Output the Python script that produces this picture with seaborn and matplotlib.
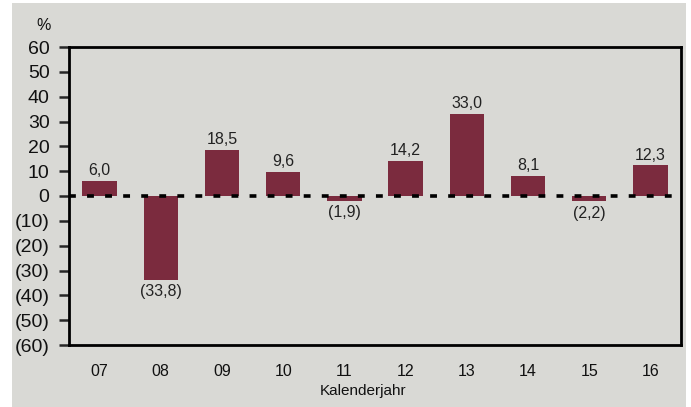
import numpy as np
import pandas as pd
import matplotlib
matplotlib.use("Agg")
import matplotlib.pyplot as plt
from matplotlib.patches import Rectangle
import seaborn as sns

# Data
years = ["07", "08", "09", "10", "11", "12", "13", "14", "15", "16"]
changes = [6.0, -33.8, 18.5, 9.6, -1.9, 14.2, 33.0, 8.1, -2.2, 12.3]
y_ticks = [-60, -50, -40, -30, -20, -10, 0, 10, 20, 30, 40, 50, 60]

bg = "#d9d9d5"
bar_color = "#7b2b3e"

sns.set_style("white")
plt.rcParams["font.family"] = ["Liberation Sans", "DejaVu Sans"]

df = pd.DataFrame({"Jahr": years, "Veraenderung": changes})


def fmt_de(v):
    # German decimal comma, negatives in parentheses
    s = f"{abs(v):.1f}".replace(".", ",")
    return f"({s})" if v < 0 else s


def fmt_tick(v):
    return f"({abs(int(v))})" if v < 0 else f"{int(v)}"


fig = plt.figure(figsize=(6.91, 4.07), dpi=100, facecolor="white")
# grey panel behind the chart (white margin on left, top and right)
fig.patches.append(Rectangle((12 / 691, 0), (686 - 12) / 691, 1 - 3 / 407,
                             transform=fig.transFigure, facecolor=bg,
                             edgecolor="none", zorder=-5))
ax = fig.add_axes([69 / 691, 1 - 345 / 407, (681 - 69) / 691, (345 - 47) / 407])
ax.set_zorder(2)
ax.set_facecolor(bg)

sns.barplot(data=df, x="Jahr", y="Veraenderung", color=bar_color,
            saturation=1, width=0.56, edgecolor="none", linewidth=0,
            ax=ax, zorder=2)

ax.axhline(0, color="black", lw=2.6, ls=(0, (1.9, 3.1)), zorder=3)

for bar, v in zip(ax.patches, changes):
    x = bar.get_x() + bar.get_width() / 2
    if v >= 0:
        ax.annotate(fmt_de(v), (x, v), xytext=(0, 2), textcoords="offset points",
                    ha="center", va="bottom", fontsize=11.5, color="#222222")
    else:
        ax.annotate(fmt_de(v), (x, v), xytext=(0, -3), textcoords="offset points",
                    ha="center", va="top", fontsize=11.5, color="#222222")

ax.set_ylim(-60, 60)
ax.set_xlim(-0.5, len(years) - 0.5)
ax.set_yticks(y_ticks)
ax.set_yticklabels([fmt_tick(t) for t in y_ticks], fontsize=14, color="#111111")
ax.tick_params(axis="y", direction="out", length=7, width=1.8, pad=7, left=True)
ax.tick_params(axis="x", length=0, pad=14, labelsize=11.5, labelcolor="#111111")

ax.set_xlabel("Kalenderjahr", fontsize=11, labelpad=3, color="#111111")
ax.xaxis.label.set_x(0.48)
ax.set_ylabel("")

for side in ["left", "right", "top", "bottom"]:
    ax.spines[side].set_visible(True)
    ax.spines[side].set_color("black")
    ax.spines[side].set_linewidth(2)

fig.text(51 / 691, 1 - 25 / 407, "%", ha="right", va="center", fontsize=11.5,
         color="#111111", zorder=3)

fig.savefig("out.png", dpi=100, facecolor=fig.get_facecolor())
